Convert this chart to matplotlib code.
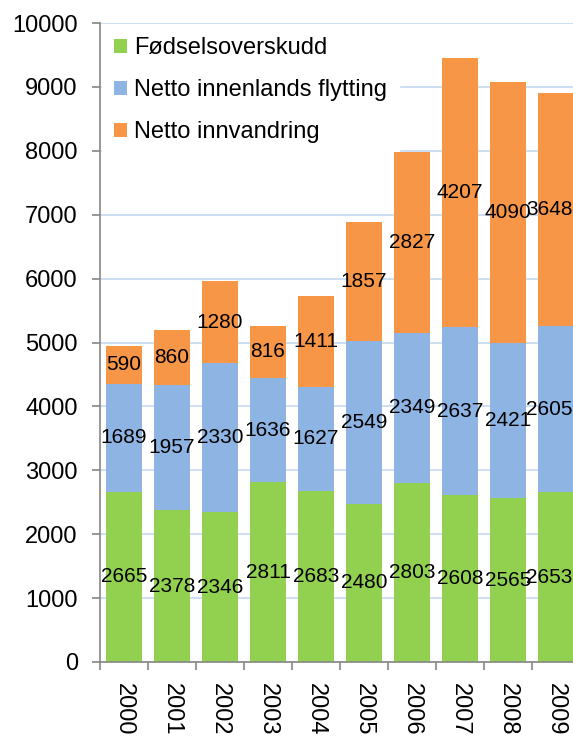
import numpy as np
import matplotlib.pyplot as plt

years = ["2000", "2001", "2002", "2003", "2004", "2005", "2006", "2007", "2008", "2009"]
fodsel = [2665, 2378, 2346, 2811, 2683, 2480, 2803, 2608, 2565, 2653]
innenlands = [1689, 1957, 2330, 1636, 1627, 2549, 2349, 2637, 2421, 2605]
innvandring = [590, 860, 1280, 816, 1411, 1857, 2827, 4207, 4090, 3648]

series = [
    ("Fødselsoverskudd", fodsel, "#92D050"),
    ("Netto innenlands flytting", innenlands, "#8DB4E2"),
    ("Netto innvandring", innvandring, "#F79646"),
]

plt.rcParams['font.family'] = ['Liberation Sans', 'DejaVu Sans']

fig = plt.figure(figsize=(5.73, 7.38), dpi=100)
ax = fig.add_axes([100 / 573, 76 / 738, 480 / 573, 639 / 738])

x = np.arange(len(years))
bottom = np.zeros(len(years))
for name, vals, col in series:
    bars = ax.bar(x, vals, 0.76, bottom=bottom, color=col, label=name, zorder=2)
    texts = ax.bar_label(bars, labels=[str(v) for v in vals], label_type='center', fontsize=15, color='black')
    # last column sits at the image edge: nudge its labels left so they stay visible
    texts[-1].xyann = (-5, 0)
    bottom += np.array(vals)

ax.set_xlim(-0.5, len(years) - 0.5)
ax.set_ylim(0, 10000)
ax.set_yticks(np.arange(0, 10001, 1000))
ax.yaxis.grid(True, color='#C6D9F1', linewidth=1.2, zorder=0)
ax.set_axisbelow(True)

ax.set_xticks(x)
ax.set_xticklabels(years, rotation=270, fontsize=17)
ax.set_xticks(np.arange(-0.5, len(years)), minor=True)
ax.tick_params(axis='x', which='major', length=0, pad=15)
ax.tick_params(axis='x', which='minor', length=6, color='#868686', width=1.2, direction='out')
ax.tick_params(axis='y', labelsize=17, length=6, color='#868686', width=1.2, pad=10)

for s in ['top', 'right']:
    ax.spines[s].set_visible(False)
for s in ['left', 'bottom']:
    ax.spines[s].set_color('#868686')
    ax.spines[s].set_linewidth(1.2)

leg = ax.legend(loc='upper left', fontsize=17, frameon=True, fancybox=False,
                handlelength=0.55, handleheight=0.55, handletextpad=0.3,
                labelspacing=0.85, borderaxespad=0.1, borderpad=0.5)
leg.get_frame().set_facecolor('white')
leg.get_frame().set_edgecolor('white')
leg.get_frame().set_alpha(1)
leg.set_zorder(1.5)  # above grid, below bars

fig.savefig("out.png", dpi=100)
